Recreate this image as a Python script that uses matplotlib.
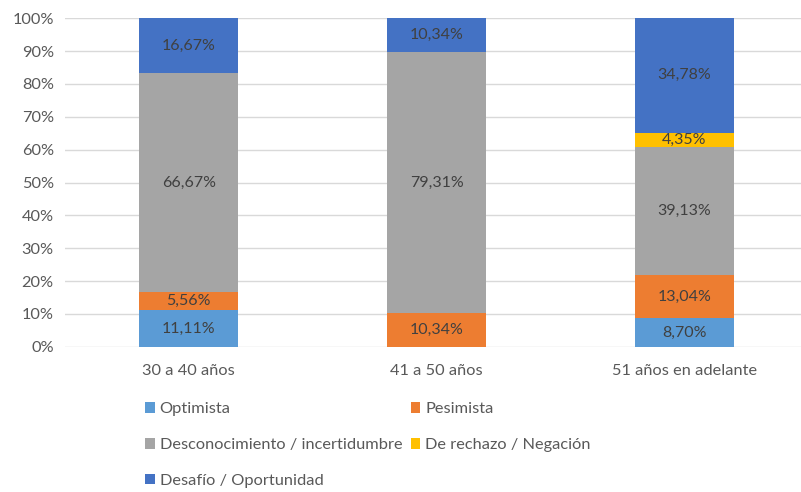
import numpy as np
import matplotlib.pyplot as plt

# grupos de edad y porcentajes por actitud
grupos = ["30 a 40 años", "41 a 50 años", "51 años en adelante"]
optimista = [11.11, 0, 8.70]
pesimista = [5.56, 10.34, 13.04]
desconocimiento = [66.67, 79.31, 39.13]
rechazo = [0, 0, 4.35]
desafio = [16.67, 10.34, 34.78]

series = [
    ("Optimista", optimista, "#5B9BD5"),
    ("Pesimista", pesimista, "#ED7D31"),
    ("Desconocimiento / incertidumbre", desconocimiento, "#A5A5A5"),
    ("De rechazo / Negación", rechazo, "#FFC000"),
    ("Desafío / Oportunidad", desafio, "#4472C4"),
]

plt.rcParams['font.family'] = ['Lato', 'DejaVu Sans']

fig = plt.figure(figsize=(8.01, 4.92), dpi=100)
ax = fig.add_axes([0.081, 0.295, 0.919, 0.668])

x = np.arange(len(grupos))
bottom = np.zeros(len(grupos))
handles = {}
for name, vals, color in series:
    vals = np.array(vals)
    b = ax.bar(x, vals, 0.4, bottom=bottom, color=color, label=name, zorder=3)
    handles[name] = b
    for xi, v, bo in zip(x, vals, bottom):
        if v > 0:
            ax.text(xi, bo + v / 2, f"{v:.2f}%".replace(".", ","),
                    ha="center", va="center", fontsize=11.5, color="#404040", zorder=4)
    bottom += vals

ax.set_xlim(-0.5, 2.47)
ax.set_ylim(0, 100)
ax.set_yticks(np.arange(0, 101, 10))
ax.set_yticklabels([f"{t}%" for t in range(0, 101, 10)])
ax.set_xticks(x)
ax.set_xticklabels(grupos)
ax.grid(axis="y", color="#D9D9D9", linewidth=1, zorder=0)
for s in ax.spines.values():
    s.set_visible(False)
ax.tick_params(length=0, labelsize=11.8, colors="#595959")
ax.tick_params(axis="x", pad=12)
ax.tick_params(axis="y", pad=8)

# leyenda en dos columnas, orden por filas
orden = ["Optimista", "Desconocimiento / incertidumbre", "Desafío / Oportunidad",
         "Pesimista", "De rechazo / Negación"]
fig.legend([handles[n] for n in orden], orden, ncol=2, loc="upper left",
           bbox_to_anchor=(0.181, 0.182), frameon=False, fontsize=11.8,
           labelcolor="#595959", handlelength=0.6, handleheight=0.6,
           handletextpad=0.3, columnspacing=0.5, labelspacing=1.32,
           borderaxespad=0, borderpad=0)

fig.savefig("out.png", dpi=100)
